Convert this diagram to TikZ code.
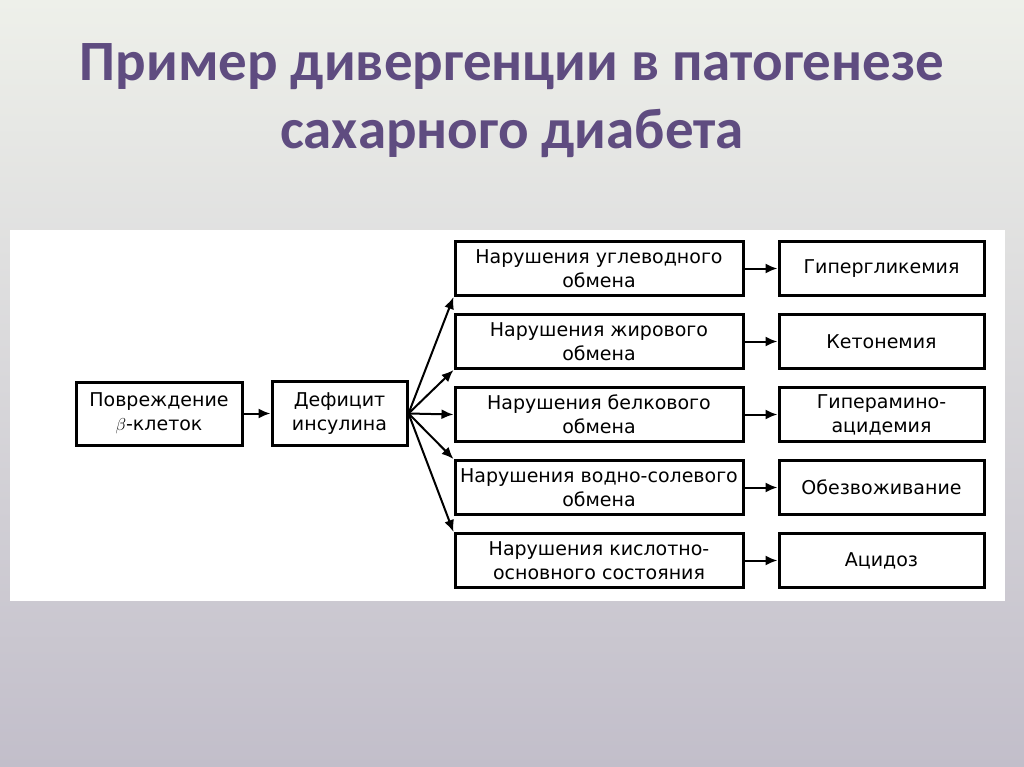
\documentclass[tikz,border=0pt]{standalone}
\usepackage{fontspec}
\setmainfont{DejaVu Sans}
\newfontfamily\titlefont{Carlito}
\usetikzlibrary{shapes,arrows,arrows.meta,positioning}
\definecolor{titlepurple}{RGB}{95,76,128}
\definecolor{bgtop}{RGB}{238,240,234}
\definecolor{bgbottom}{RGB}{194,190,202}
\tikzstyle{block} = [rectangle, draw, line width=3pt, fill=white, align=center,
    inner sep=0pt, minimum width=288pt, minimum height=54pt, font=\fontsize{19}{24}\selectfont]
\tikzstyle{result} = [block, minimum width=205pt]
\tikzstyle{line} = [draw, line width=2pt, -{Latex[length=12pt, width=10pt]}]

\begin{document}
\begin{tikzpicture}[x=1pt, y=-1pt]
		% background and panel
		\shade [top color=bgtop, bottom color=bgbottom] (0,0) rectangle (1024,767);
		\useasboundingbox (0,0) rectangle (1024,767);
		\fill [white] (10,230) rectangle (1005,601);
		\node [font=\titlefont\bfseries\fontsize{57}{68}\selectfont, text=titlepurple, align=center] (title) at (512,101)
			{Пример дивергенции в патогенезе\\сахарного диабета};

		\node [block, minimum width=166pt, minimum height=63pt] (damage) at (159,413.5) {Повреждение\\$\beta$-клеток};
		\node [block, minimum width=135pt, minimum height=64pt, right=27pt of damage] (deficit) {Дефицит\\инсулина};

		\node [block] (carb) at (599,268.5) {Нарушения углеводного\\обмена};
		\node [block, below=16pt of carb] (fat) {Нарушения жирового\\обмена};
		\node [block, below=16pt of fat] (protein) {Нарушения белкового\\обмена};
		\node [block, below=16pt of protein] (water) {Нарушения водно-солевого\\обмена};
		\node [block, below=16pt of water] (acidbase) {Нарушения кислотно-\\основного состояния};

		\node [result, right=33pt of carb] (glyc) {Гипергликемия};
		\node [result, right=33pt of fat] (keton) {Кетонемия};
		\node [result, right=33pt of protein] (amino) {Гиперамино-\\ацидемия};
		\node [result, right=33pt of water] (dehyd) {Обезвоживание};
		\node [result, right=33pt of acidbase] (acid) {Ацидоз};

		\path [line] (damage) -- (deficit);
		\path [line] (deficit.east) -- (carb.south west);
		\path [line] (deficit.east) -- (fat.south west);
		\path [line] (deficit.east) -- (protein.west);
		\path [line] (deficit.east) -- (water.north west);
		\path [line] (deficit.east) -- (acidbase.north west);
		\path [line] (carb) -- (glyc);
		\path [line] (fat) -- (keton);
		\path [line] (protein) -- (amino);
		\path [line] (water) -- (dehyd);
		\path [line] (acidbase) -- (acid);
	\end{tikzpicture}
\end{document}
